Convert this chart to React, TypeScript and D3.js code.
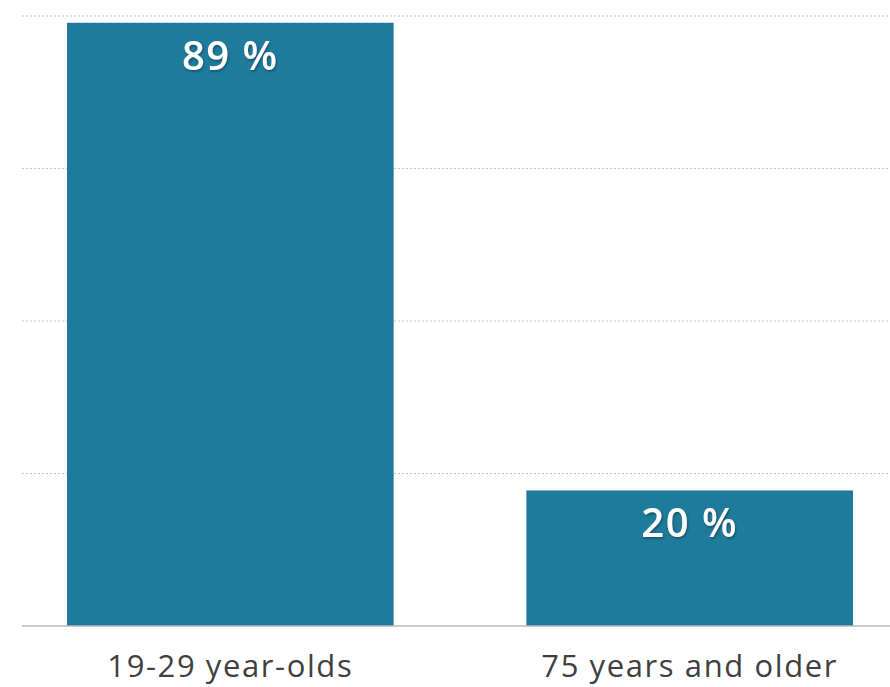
import React from "react";
import * as d3 from "d3";

const categories = ["19-29 year-olds", "75 years and older"];
const values = [89, 20];
const valueLabels = ["89 %", "20 %"];
const gridTicks = [22.5, 45, 67.5, 90];

const W = 890;
const H = 687;

export default function App() {
  const x = d3.scaleBand<string>().domain(categories).range([67, 853]).paddingInner(0.289).paddingOuter(0);
  const y = d3.scaleLinear().domain([0, 90]).range([626, 16]);
  return (
    <svg width={W} height={H} style={{ position: "absolute", left: 0, top: 0, background: "#fff" }}>
      <defs>
        <filter id="ts" x="-20%" y="-20%" width="140%" height="140%">
          <feDropShadow dx="1" dy="1.5" stdDeviation="1" floodColor="#0b3a4a" floodOpacity="0.7" />
        </filter>
      </defs>
      {gridTicks.map((t) => (
        <line key={t} x1={22} x2={890} y1={y(t)} y2={y(t)} stroke="#c4c4c4" strokeWidth={1.2} strokeDasharray="2,2" />
      ))}
      {categories.map((c, i) => (
        <rect key={c} x={x(c)} y={y(values[i])} width={x.bandwidth()} height={y(0) - y(values[i])} fill="#1f7b9c" />
      ))}
      <line x1={22} x2={890} y1={y(0)} y2={y(0)} stroke="#b8b8b8" strokeWidth={1.5} />
      {categories.map((c, i) => (
        <text
          key={c + "v"}
          x={(x(c) as number) + x.bandwidth() / 2}
          y={y(values[i]) + 47}
          textAnchor="middle"
          fill="#ffffff"
          fontFamily="'Open Sans', Lato, sans-serif"
          fontWeight={600}
          fontSize={40}
          letterSpacing={1.5}
          filter="url(#ts)"
        >
          {valueLabels[i]}
        </text>
      ))}
      {categories.map((c) => (
        <text
          key={c + "l"}
          x={(x(c) as number) + x.bandwidth() / 2}
          y={677}
          textAnchor="middle"
          fill="#3f3f3f"
          fontFamily="'Open Sans', Lato, sans-serif"
          fontSize={31}
          letterSpacing={1.6}
        >
          {c}
        </text>
      ))}
    </svg>
  );
}
